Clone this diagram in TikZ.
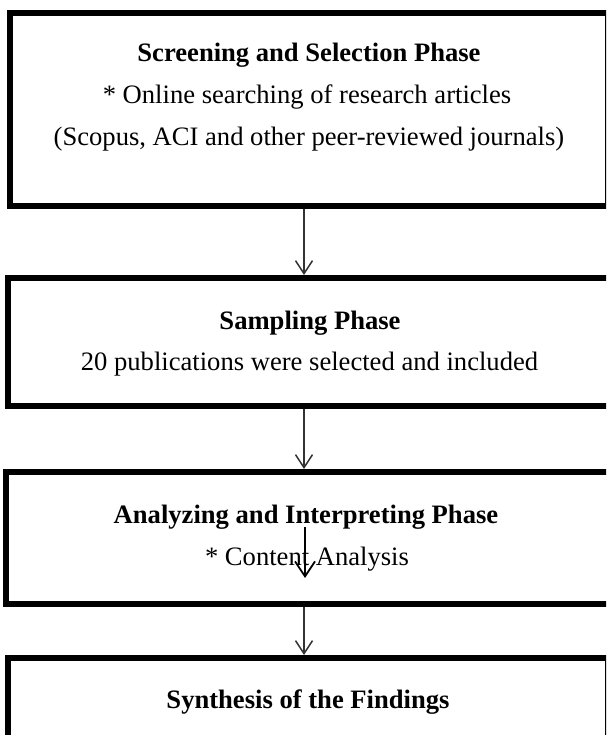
\documentclass[tikz,border=0pt]{standalone}
\usepackage{fontspec}
\setmainfont{Liberation Serif}
\usetikzlibrary{arrows.meta}
\tikzset{
  phasebox/.style={draw=black, line width=6pt, fill=white, rectangle, inner sep=0pt},
  txt/.style={anchor=base, inner sep=0pt, font=\fontsize{26.6}{30}\selectfont},
  btxt/.style={txt, font=\fontsize{26.6}{30}\selectfont\bfseries},
  flow/.style={draw=black!80, line width=1.5pt, -{Straight Barb[length=13pt,width=17pt,line width=1.5pt]}},
  stray/.style={draw=black, line width=1.8pt, -{Straight Barb[length=15pt,width=20pt,line width=1.8pt]}}
}
\begin{document}
\begin{tikzpicture}[x=1pt,y=-1pt]
\clip (0,0) rectangle (606,735);
\fill[white] (0,0) rectangle (606,735);
% boxes
\node[phasebox, minimum width=598pt, minimum height=193pt] (box1) at (309,109.5) {};
\node[phasebox, minimum width=604pt, minimum height=128pt] (box2) at (310,342) {};
\node[phasebox, minimum width=603.5pt, minimum height=132pt] (box3) at (307.75,538) {};
\node[phasebox, minimum width=600pt, minimum height=160pt] (box4) at (308,738) {};
% texts
\node[btxt] (t11) at (309,62) {Screening and Selection Phase};
\node[txt] (t12) at (307,104) {* Online searching of research articles};
\node[txt] (t13) at (309,146) {(Scopus, ACI and other peer-reviewed journals)};
\node[btxt] (t21) at (310,329) {Sampling Phase};
\node[txt] (t22) at (309.5,370) {20 publications were selected and included};
\node[btxt] (t31) at (306,523) {Analyzing and Interpreting Phase};
\node[txt] (t32) at (307,565) {* Content Analysis};
\node[btxt] (t41) at (308,708) {Synthesis of the Findings};
% connectors
\coordinate (ax) at (304,0);
\draw[flow] (box1.south -| ax) -- (box2.north -| ax);
\draw[flow] (box2.south -| ax) -- (box3.north -| ax);
\draw[flow] (box3.south -| ax) -- (box4.north -| ax);
\coordinate (s1) at (305,527);
\coordinate (s2) at (305,578);
\draw[stray] (s1) -- (s2);
\end{tikzpicture}
\end{document}
